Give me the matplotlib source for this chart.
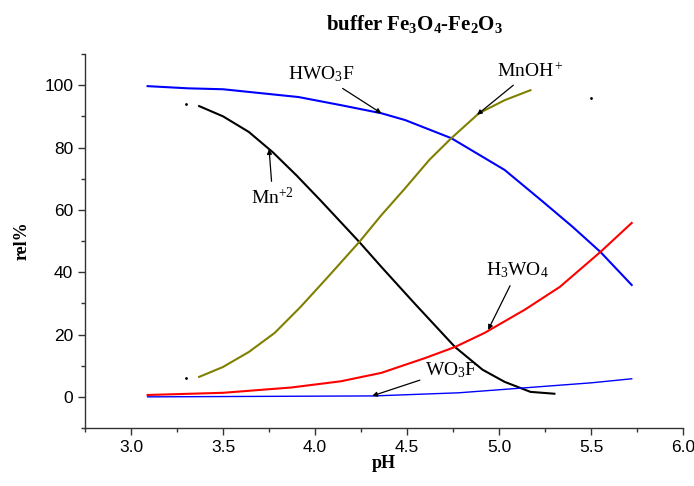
import numpy as np
import matplotlib
matplotlib.use('Agg')
import matplotlib.pyplot as plt
from matplotlib.ticker import MultipleLocator

plt.rcParams['mathtext.fontset'] = 'custom'
plt.rcParams['mathtext.rm'] = 'Liberation Serif'
plt.rcParams['mathtext.it'] = 'Liberation Serif:italic'
plt.rcParams['mathtext.bf'] = 'Liberation Serif:bold'

# data
ph_hwo3f = [3.09, 3.31, 3.50, 3.91, 4.14, 4.36, 4.49, 4.74, 5.03, 5.24, 5.40, 5.55, 5.72]
hwo3f = [99.7, 99.0, 98.7, 96.2, 93.6, 91.0, 88.8, 83.0, 72.8, 62.5, 54.5, 46.5, 35.9]

ph_mn2 = [3.37, 3.50, 3.64, 3.77, 3.90, 4.03, 4.24, 4.36, 4.54, 4.76, 4.91, 5.03, 5.17, 5.30]
mn2 = [93.3, 90.0, 85.0, 78.5, 71.0, 63.0, 49.7, 41.7, 30.0, 16.0, 8.7, 4.8, 1.6, 1.0]

ph_mnoh = [3.37, 3.50, 3.64, 3.78, 3.92, 4.07, 4.24, 4.36, 4.49, 4.62, 4.74, 4.89, 5.03, 5.17]
mnoh = [6.4, 9.6, 14.4, 20.5, 28.8, 38.5, 49.7, 58.3, 67.0, 76.0, 83.0, 91.0, 95.2, 98.4]

ph_h3wo4 = [3.09, 3.50, 3.87, 4.14, 4.36, 4.60, 4.76, 4.92, 5.14, 5.33, 5.55, 5.72]
h3wo4 = [0.6, 1.3, 3.0, 5.0, 7.7, 12.5, 16.0, 20.5, 28.0, 35.3, 46.5, 55.8]

ph_wo3f = [3.09, 3.50, 4.32, 4.78, 5.14, 5.50, 5.72]
wo3f = [0.0, 0.1, 0.3, 1.3, 2.9, 4.5, 5.8]

# stray points
ph_dots = [3.3, 3.3, 5.5]
dots = [94, 6, 96]

fig = plt.figure(figsize=(6.94, 4.86), dpi=100)
ax = fig.add_axes([0.1225, 0.1193, 0.862, 0.7695])

ax.plot(ph_hwo3f, hwo3f, color='#0000ff', lw=1.5)
ax.plot(ph_mn2, mn2, color='black', lw=1.5)
ax.plot(ph_mnoh, mnoh, color='#808000', lw=1.5)
ax.plot(ph_h3wo4, h3wo4, color='#ff0000', lw=1.5)
ax.plot(ph_wo3f, wo3f, color='#0000ff', lw=1.0)
ax.plot(ph_dots, dots, 'k.', ms=2, ls='none')

ax.set_xlim(2.75, 6.0)
ax.set_ylim(-10, 110)
ax.xaxis.set_minor_locator(MultipleLocator(0.25))
ax.yaxis.set_major_locator(MultipleLocator(20))
ax.yaxis.set_minor_locator(MultipleLocator(10))
ax.set_xticks(np.arange(3.0, 6.01, 0.5))
ax.set_xticklabels(['3.0', '3.5', '4.0', '4.5', '5.0', '5.5', '6.0'])
ax.tick_params(which='major', direction='out', length=5, width=1, labelsize=12.5, colors='#333333',
               labelcolor='black')
ax.tick_params(which='minor', direction='out', length=3, width=1, colors='#333333')
for lab in ax.get_xticklabels() + ax.get_yticklabels():
    lab.set_family('Liberation Sans')
for s in ['top', 'right']:
    ax.spines[s].set_visible(False)
for s in ['left', 'bottom']:
    ax.spines[s].set_linewidth(1.0)
    ax.spines[s].set_color('#333333')

ax.set_xlabel('pH', family='Liberation Serif', weight='bold', fontsize=13, labelpad=0)
ax.set_ylabel('rel%', family='Liberation Serif', weight='bold', fontsize=13, labelpad=10)
fig.text(0.597, 0.95, r'$\mathbf{buffer\ Fe_3O_4\text{-}Fe_2O_3}$', fontsize=15,
         ha='center', va='center')

arr = dict(arrowstyle='-|>', color='black', lw=0.9, mutation_scale=7, shrinkA=2, shrinkB=0)
ax.annotate(r'$\mathrm{HWO_3F}$', xy=(4.36, 91), xytext=(4.03, 103.5), ha='center', va='center',
            arrowprops=arr, fontsize=14)
ax.annotate(r'$\mathrm{MnOH^+}$', xy=(4.88, 90.5), xytext=(5.17, 104.5), ha='center', va='center',
            arrowprops=arr, fontsize=14)
ax.annotate(r'$\mathrm{Mn^{+2}}$', xy=(3.75, 79.5), xytext=(3.77, 64), ha='center', va='center',
            arrowprops=arr, fontsize=14)
ax.annotate(r'$\mathrm{H_3WO_4}$', xy=(4.94, 21.5), xytext=(5.1, 40.5), ha='center', va='center',
            arrowprops=arr, fontsize=14)
ax.annotate(r'$\mathrm{WO_3F}$', xy=(4.31, 0.3), xytext=(4.74, 8.7), ha='center', va='center',
            arrowprops=arr, fontsize=14)

fig.savefig('out.png', dpi=100)
